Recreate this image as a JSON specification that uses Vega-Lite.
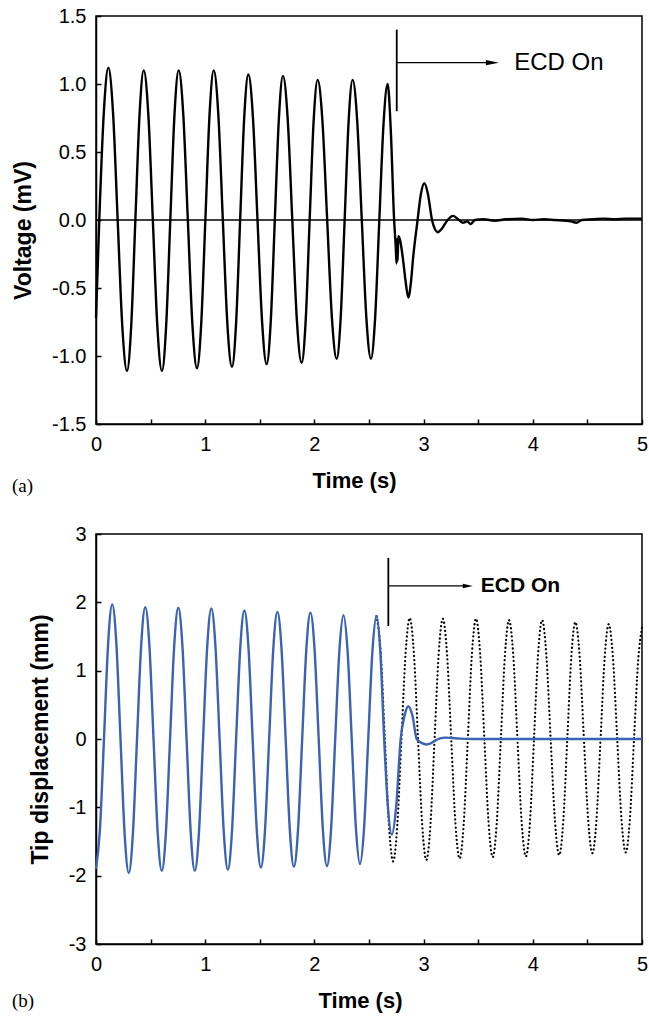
{
  "$schema": "https://vega.github.io/schema/vega-lite/v6.json",
  "padding": {"left": 11, "top": 5, "right": 4, "bottom": 4},
  "spacing": 26,
  "background": "white",
  "config": {
    "font": "Liberation Sans",
    "view": {"stroke": "black", "strokeWidth": 1.5},
    "axis": {
      "grid": false,
      "domainColor": "black",
      "domainWidth": 1.5,
      "tickColor": "black",
      "tickWidth": 1.5,
      "tickSize": -5,
      "labelColor": "black",
      "labelFontSize": 20,
      "labelFlush": false,
      "labelOverlap": false,
      "labelPadding": 15,
      "titleColor": "black",
      "titleFontSize": 22,
      "titleFontWeight": "bold",
      "titlePadding": 16
    }
  },
  "datasets": {
    "volt": [
      {"t":0,"v":-0.72},{"t":0.03,"v":0},{"t":0.0715,"v":0.79},{"t":0.113,"v":1.12},{"t":0.156,"v":0.79},{"t":0.1985,"v":0},{"t":0.241,"v":-0.785},{"t":0.284,"v":-1.11},
      {"t":0.322,"v":-0.785},{"t":0.3605,"v":0},{"t":0.399,"v":0.778},{"t":0.437,"v":1.10},{"t":0.479,"v":0.778},{"t":0.5205,"v":0},{"t":0.562,"v":-0.785},{"t":0.604,"v":-1.11},
      {"t":0.642,"v":-0.785},{"t":0.6805,"v":0},{"t":0.719,"v":0.778},{"t":0.757,"v":1.10},{"t":0.799,"v":0.778},{"t":0.841,"v":0},{"t":0.883,"v":-0.771},{"t":0.925,"v":-1.09},
      {"t":0.963,"v":-0.771},{"t":1.0015,"v":0},{"t":1.040,"v":0.778},{"t":1.078,"v":1.10},{"t":1.120,"v":0.778},{"t":1.1615,"v":0},{"t":1.203,"v":-0.764},{"t":1.245,"v":-1.08},
      {"t":1.2825,"v":-0.764},{"t":1.32,"v":0},{"t":1.3575,"v":0.756},{"t":1.395,"v":1.07},{"t":1.437,"v":0.756},{"t":1.479,"v":0},{"t":1.521,"v":-0.749},{"t":1.563,"v":-1.06},
      {"t":1.600,"v":-0.749},{"t":1.6375,"v":0},{"t":1.675,"v":0.749},{"t":1.712,"v":1.06},{"t":1.755,"v":0.749},{"t":1.7975,"v":0},{"t":1.840,"v":-0.742},{"t":1.883,"v":-1.05},
      {"t":1.920,"v":-0.742},{"t":1.9565,"v":0},{"t":1.993,"v":0.728},{"t":2.030,"v":1.03},{"t":2.0735,"v":0.728},{"t":2.117,"v":0},{"t":2.1605,"v":-0.721},{"t":2.204,"v":-1.02},
      {"t":2.2405,"v":-0.721},{"t":2.277,"v":0},{"t":2.3135,"v":0.728},{"t":2.35,"v":1.03},{"t":2.392,"v":0.728},{"t":2.434,"v":0},{"t":2.476,"v":-0.721},{"t":2.518,"v":-1.02},
      {"t":2.556,"v":-0.721},{"t":2.5945,"v":0},{"t":2.633,"v":0.707},{"t":2.671,"v":1.00},{"t":2.70,"v":0.65},{"t":2.73,"v":0},
      {"t":2.745,"v":-0.2},{"t":2.752,"v":-0.32},{"t":2.757,"v":-0.14},{"t":2.762,"v":-0.30},{"t":2.768,"v":-0.12},{"t":2.785,"v":-0.15},{"t":2.81,"v":-0.28},{"t":2.835,"v":-0.45},
      {"t":2.86,"v":-0.57},{"t":2.885,"v":-0.45},{"t":2.905,"v":-0.27},{"t":2.945,"v":0},{"t":2.975,"v":0.19},{"t":3.007,"v":0.27},{"t":3.04,"v":0.19},{"t":3.077,"v":0},
      {"t":3.10,"v":-0.06},{"t":3.13,"v":-0.09},{"t":3.17,"v":-0.06},{"t":3.22,"v":0},{"t":3.27,"v":0.03},{"t":3.31,"v":0.01},{"t":3.36,"v":-0.02},{"t":3.40,"v":-0.01},
      {"t":3.43,"v":-0.03},{"t":3.47,"v":0.0},{"t":3.55,"v":0.005},{"t":3.65,"v":-0.005},{"t":3.75,"v":0.005},{"t":3.9,"v":0.01},{"t":4.0,"v":0},{"t":4.1,"v":0.005},
      {"t":4.2,"v":0},{"t":4.35,"v":-0.01},{"t":4.4,"v":-0.02},{"t":4.45,"v":0},{"t":4.55,"v":0.005},{"t":4.65,"v":0.01},{"t":4.75,"v":0.005},{"t":4.85,"v":0.01},{"t":5.0,"v":0.01}
    ],
    "tip": [
      {"t":0,"v":-1.90},{"t":0.0353,"v":-1.343},{"t":0.0731,"v":0},{"t":0.1109,"v":1.393},{"t":0.1487,"v":1.97},{"t":0.1866,"v":1.393},{"t":0.2244,"v":0},{"t":0.2622,"v":-1.386},
      {"t":0.3000,"v":-1.96},{"t":0.3378,"v":-1.386},{"t":0.3756,"v":0},{"t":0.4134,"v":1.365},{"t":0.4512,"v":1.93},{"t":0.4891,"v":1.365},{"t":0.5269,"v":0},{"t":0.5647,"v":-1.365},
      {"t":0.6025,"v":-1.93},{"t":0.6403,"v":-1.365},{"t":0.6781,"v":0},{"t":0.7159,"v":1.357},{"t":0.7537,"v":1.92},{"t":0.7916,"v":1.357},{"t":0.8294,"v":0},{"t":0.8672,"v":-1.365},
      {"t":0.9050,"v":-1.93},{"t":0.9428,"v":-1.365},{"t":0.9806,"v":0},{"t":1.0184,"v":1.350},{"t":1.0562,"v":1.91},{"t":1.0941,"v":1.350},{"t":1.1319,"v":0},{"t":1.1697,"v":-1.350},
      {"t":1.2075,"v":-1.91},{"t":1.2453,"v":-1.350},{"t":1.2831,"v":0},{"t":1.3209,"v":1.329},{"t":1.3587,"v":1.88},{"t":1.3966,"v":1.329},{"t":1.4344,"v":0},{"t":1.4722,"v":-1.329},
      {"t":1.5100,"v":-1.88},{"t":1.5478,"v":-1.329},{"t":1.5856,"v":0},{"t":1.6234,"v":1.315},{"t":1.6612,"v":1.86},{"t":1.6991,"v":1.315},{"t":1.7369,"v":0},{"t":1.7747,"v":-1.322},
      {"t":1.8125,"v":-1.87},{"t":1.8503,"v":-1.322},{"t":1.8881,"v":0},{"t":1.9259,"v":1.308},{"t":1.9637,"v":1.85},{"t":2.0016,"v":1.308},{"t":2.0394,"v":0},{"t":2.0772,"v":-1.315},
      {"t":2.1150,"v":-1.86},{"t":2.1528,"v":-1.315},{"t":2.1906,"v":0},{"t":2.2284,"v":1.280},{"t":2.2662,"v":1.81},{"t":2.3041,"v":1.280},{"t":2.3419,"v":0},{"t":2.3797,"v":-1.294},
      {"t":2.4175,"v":-1.83},{"t":2.4553,"v":-1.294},{"t":2.4931,"v":0},{"t":2.5309,"v":1.273},{"t":2.5687,"v":1.80},
      {"t":2.604,"v":1.27},{"t":2.639,"v":0},{"t":2.673,"v":-0.99},{"t":2.708,"v":-1.40},{"t":2.749,"v":-0.99},{"t":2.79,"v":0},{"t":2.825,"v":0.34},{"t":2.86,"v":0.48},
      {"t":2.898,"v":0.34},{"t":2.937,"v":0},{"t":2.981,"v":-0.057},{"t":3.025,"v":-0.08},{"t":3.07,"v":-0.06},{"t":3.11,"v":-0.02},{"t":3.15,"v":0.01},{"t":3.20,"v":0.02},
      {"t":3.26,"v":0.015},{"t":3.33,"v":0.005},{"t":3.45,"v":0},{"t":5.0,"v":0}
    ],
    "free": [
      {"t":2.5687,"v":1.80},{"t":2.607,"v":1.273},{"t":2.645,"v":0},{"t":2.683,"v":-1.266},{"t":2.721,"v":-1.79},
      {"t":2.759,"v":-1.266},{"t":2.797,"v":0},{"t":2.835,"v":1.251},{"t":2.873,"v":1.77},
      {"t":2.911,"v":1.251},{"t":2.949,"v":0},{"t":2.987,"v":-1.251},{"t":3.025,"v":-1.77},
      {"t":3.063,"v":-1.251},{"t":3.1005,"v":0},{"t":3.138,"v":1.244},{"t":3.176,"v":1.76},
      {"t":3.2145,"v":1.244},{"t":3.253,"v":0},{"t":3.2915,"v":-1.237},{"t":3.330,"v":-1.75},
      {"t":3.3675,"v":-1.237},{"t":3.405,"v":0},{"t":3.4425,"v":1.244},{"t":3.480,"v":1.76},
      {"t":3.518,"v":1.244},{"t":3.5565,"v":0},{"t":3.595,"v":-1.223},{"t":3.633,"v":-1.73},
      {"t":3.670,"v":-1.223},{"t":3.7075,"v":0},{"t":3.745,"v":1.230},{"t":3.782,"v":1.74},
      {"t":3.821,"v":1.230},{"t":3.8595,"v":0},{"t":3.898,"v":-1.216},{"t":3.937,"v":-1.72},
      {"t":3.974,"v":-1.216},{"t":4.011,"v":0},{"t":4.048,"v":1.230},{"t":4.085,"v":1.74},
      {"t":4.124,"v":1.230},{"t":4.1635,"v":0},{"t":4.203,"v":-1.202},{"t":4.242,"v":-1.70},
      {"t":4.279,"v":-1.202},{"t":4.316,"v":0},{"t":4.353,"v":1.209},{"t":4.390,"v":1.71},
      {"t":4.429,"v":1.209},{"t":4.468,"v":0},{"t":4.507,"v":-1.181},{"t":4.546,"v":-1.67},
      {"t":4.583,"v":-1.181},{"t":4.6205,"v":0},{"t":4.658,"v":1.188},{"t":4.695,"v":1.68},
      {"t":4.734,"v":1.188},{"t":4.773,"v":0},{"t":4.812,"v":-1.174},{"t":4.851,"v":-1.66},
      {"t":4.889,"v":-1.174},{"t":4.927,"v":0},{"t":4.965,"v":1.152},{"t":5.0,"v":1.63}
    ],
    "zeroA": [{"v": 0}],
    "vlineA": [{"t": 2.754, "v": 1.40, "v2": 0.80}],
    "arrowA": [{"t": 2.754, "t2": 3.63, "v": 1.157}],
    "headA": [{"t": 3.63, "v": 1.157}],
    "labelA": [{"t": 3.83, "v": 1.157, "label": "ECD On"}],
    "tagA": [{"t": -0.77, "v": -1.956, "label": "(a)"}],
    "vlineB": [{"t": 2.677, "v": 2.65, "v2": 1.654}],
    "arrowB": [{"t": 2.677, "t2": 3.405, "v": 2.24}],
    "headB": [{"t": 3.405, "v": 2.24}],
    "labelB": [{"t": 3.523, "v": 2.24, "label": "ECD On"}],
    "tagB": [{"t": -0.77, "v": -3.834, "label": "(b)"}]
  },
  "vconcat": [
    {
      "width": 546,
      "height": 408,
      "layer": [
        {
          "data": {"name": "zeroA"},
          "mark": {"type": "rule", "color": "black", "strokeWidth": 1.5},
          "encoding": {"y": {"field": "v", "type": "quantitative"}}
        },
        {
          "data": {"name": "volt"},
          "mark": {"type": "line", "color": "black", "strokeWidth": 2.4, "interpolate": "monotone"},
          "encoding": {
            "x": {
              "field": "t", "type": "quantitative",
              "scale": {"domain": [0, 5], "nice": false, "zero": false},
              "axis": {
                "title": "Time (s)",
                "values": [0, 0.5, 1, 1.5, 2, 2.5, 3, 3.5, 4, 4.5, 5],
                "labelExpr": "datum.value % 1 == 0 ? format(datum.value, 'd') : ''",
                "titleX": 258
              }
            },
            "y": {
              "field": "v", "type": "quantitative",
              "scale": {"domain": [-1.5, 1.5], "nice": false, "zero": false},
              "axis": {
                "title": "Voltage (mV)",
                "titleFontSize": 23,
                "values": [-1.5, -1.25, -1, -0.75, -0.5, -0.25, 0, 0.25, 0.5, 0.75, 1, 1.25, 1.5],
                "labelExpr": "(datum.value * 4) % 2 == 0 ? (datum.value < 0 ? '-' + format(-datum.value, '.1f') : format(datum.value, '.1f')) : ''",
                "titleY": 214
              }
            }
          }
        },
        {
          "data": {"name": "vlineA"},
          "mark": {"type": "rule", "color": "black", "strokeWidth": 1.8},
          "encoding": {
            "x": {"field": "t", "type": "quantitative"},
            "y": {"field": "v", "type": "quantitative"},
            "y2": {"field": "v2"}
          }
        },
        {
          "data": {"name": "arrowA"},
          "mark": {"type": "rule", "color": "black", "strokeWidth": 1.3},
          "encoding": {
            "x": {"field": "t", "type": "quantitative"},
            "x2": {"field": "t2"},
            "y": {"field": "v", "type": "quantitative"}
          }
        },
        {
          "data": {"name": "headA"},
          "mark": {"type": "point", "shape": "M-1,-0.4L1,0L-1,0.4Z", "filled": true, "color": "black", "size": 169, "opacity": 1},
          "encoding": {
            "x": {"field": "t", "type": "quantitative"},
            "y": {"field": "v", "type": "quantitative"}
          }
        },
        {
          "data": {"name": "labelA"},
          "mark": {"type": "text", "align": "left", "baseline": "middle", "fontSize": 24, "color": "black"},
          "encoding": {
            "x": {"field": "t", "type": "quantitative"},
            "y": {"field": "v", "type": "quantitative"},
            "text": {"field": "label"}
          }
        },
        {
          "data": {"name": "tagA"},
          "mark": {"type": "text", "align": "left", "baseline": "middle", "fontSize": 19, "font": "Liberation Serif", "color": "black"},
          "encoding": {
            "x": {"field": "t", "type": "quantitative"},
            "y": {"field": "v", "type": "quantitative"},
            "text": {"field": "label"}
          }
        }
      ]
    },
    {
      "width": 546,
      "height": 410,
      "layer": [
        {
          "data": {"name": "free"},
          "mark": {"type": "line", "color": "black", "strokeWidth": 2.2, "strokeDash": [0.1, 4], "strokeCap": "round", "interpolate": "monotone"},
          "encoding": {
            "x": {
              "field": "t", "type": "quantitative",
              "scale": {"domain": [0, 5], "nice": false, "zero": false},
              "axis": {
                "title": "Time (s)",
                "values": [0, 0.5, 1, 1.5, 2, 2.5, 3, 3.5, 4, 4.5, 5],
                "labelExpr": "datum.value % 1 == 0 ? format(datum.value, 'd') : ''",
                "titleX": 264
              }
            },
            "y": {
              "field": "v", "type": "quantitative",
              "scale": {"domain": [-3, 3], "nice": false, "zero": false},
              "axis": {
                "title": "Tip displacement (mm)",
                "titleFontSize": 23,
                "values": [-3, -2.5, -2, -1.5, -1, -0.5, 0, 0.5, 1, 1.5, 2, 2.5, 3],
                "labelExpr": "datum.value % 1 == 0 ? (datum.value < 0 ? '-' + format(-datum.value, 'd') : format(datum.value, 'd')) : ''"
              }
            }
          }
        },
        {
          "data": {"name": "tip"},
          "mark": {"type": "line", "color": "#3b62b3", "strokeWidth": 2.4, "interpolate": "monotone"},
          "encoding": {
            "x": {"field": "t", "type": "quantitative"},
            "y": {"field": "v", "type": "quantitative"}
          }
        },
        {
          "data": {"name": "vlineB"},
          "mark": {"type": "rule", "color": "black", "strokeWidth": 1.8},
          "encoding": {
            "x": {"field": "t", "type": "quantitative"},
            "y": {"field": "v", "type": "quantitative"},
            "y2": {"field": "v2"}
          }
        },
        {
          "data": {"name": "arrowB"},
          "mark": {"type": "rule", "color": "black", "strokeWidth": 1.3},
          "encoding": {
            "x": {"field": "t", "type": "quantitative"},
            "x2": {"field": "t2"},
            "y": {"field": "v", "type": "quantitative"}
          }
        },
        {
          "data": {"name": "headB"},
          "mark": {"type": "point", "shape": "M-1,-0.45L1,0L-1,0.45Z", "filled": true, "color": "black", "size": 100, "opacity": 1},
          "encoding": {
            "x": {"field": "t", "type": "quantitative"},
            "y": {"field": "v", "type": "quantitative"}
          }
        },
        {
          "data": {"name": "labelB"},
          "mark": {"type": "text", "align": "left", "baseline": "middle", "fontSize": 21, "fontWeight": "bold", "color": "black"},
          "encoding": {
            "x": {"field": "t", "type": "quantitative"},
            "y": {"field": "v", "type": "quantitative"},
            "text": {"field": "label"}
          }
        },
        {
          "data": {"name": "tagB"},
          "mark": {"type": "text", "align": "left", "baseline": "middle", "fontSize": 19, "font": "Liberation Serif", "color": "black"},
          "encoding": {
            "x": {"field": "t", "type": "quantitative"},
            "y": {"field": "v", "type": "quantitative"},
            "text": {"field": "label"}
          }
        }
      ]
    }
  ]
}
